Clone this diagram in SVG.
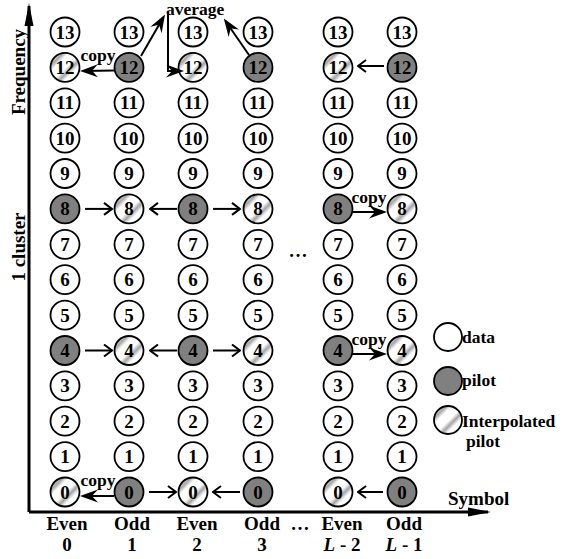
<svg xmlns="http://www.w3.org/2000/svg" width="562" height="559" viewBox="0 0 562 559">
<style>
  text{font-family:"Liberation Serif","Times New Roman",serif;font-weight:bold;fill:#000}
  .d{fill:#fff;stroke:#000;stroke-width:1.8}
  .p{fill:#808080;stroke:#000;stroke-width:1.8}
  .h{fill:url(#hatch);stroke:#000;stroke-width:1.8}
  .n{font-size:19px;text-anchor:middle}
  .lbl{font-size:19px}
  .mid{text-anchor:middle}
  .sm{font-size:17.5px}
  .ar{fill:none;stroke:#000;stroke-width:2}
  .chev{marker-end:url(#chev)}
  .st{marker-end:url(#stealth)}
  .axis{fill:none;stroke:#000;stroke-width:3;marker-end:url(#axhead)}
</style>
<defs>
  <linearGradient id="hatch" x1="0" y1="0" x2="0.4" y2="0.4" spreadMethod="repeat">
    <stop offset="0" stop-color="#fff"/>
    <stop offset="0.3" stop-color="#fff"/>
    <stop offset="0.55" stop-color="#a4a4a4"/>
    <stop offset="0.8" stop-color="#fff"/>
    <stop offset="1" stop-color="#fff"/>
  </linearGradient>
  <marker id="chev" viewBox="0 0 10 14" refX="9" refY="7" markerWidth="10" markerHeight="14" markerUnits="userSpaceOnUse" orient="auto">
    <path d="M1,1 L9,7 L1,13" fill="none" stroke="#000" stroke-width="2"/>
  </marker>
  <marker id="stealth" viewBox="0 0 18 13" refX="15" refY="6.5" markerWidth="18" markerHeight="13" markerUnits="userSpaceOnUse" orient="auto">
    <path d="M18,6.5 L0,0 L6,6.5 L0,13 z" fill="#000"/>
  </marker>
  <marker id="axhead" viewBox="0 0 23 10" refX="20" refY="5" markerWidth="23" markerHeight="10" markerUnits="userSpaceOnUse" orient="auto">
    <path d="M23,5 L0,0.5 L0,9.5 z" fill="#000"/>
  </marker>
</defs>

<!-- axes -->
<g id="axes">
  <line class="axis" x1="29" y1="512" x2="29" y2="6"/>
  <line class="axis" x1="29" y1="512" x2="488" y2="512"/>
  <text class="lbl mid" transform="translate(25,72) rotate(-90)">Frequency</text>
  <text class="lbl mid" transform="translate(25,247) rotate(-90)">1 cluster</text>
  <text class="lbl" x="448" y="505">Symbol</text>
</g>

<!-- symbol index labels -->
<g id="symbols" class="lbl">
  <text class="mid" x="67" y="530">Even</text><text class="mid" x="67" y="551">0</text>
  <text class="mid" x="132" y="530">Odd</text><text class="mid" x="132" y="551">1</text>
  <text class="mid" x="197" y="530">Even</text><text class="mid" x="197" y="551">2</text>
  <text class="mid" x="262" y="530">Odd</text><text class="mid" x="262" y="551">3</text>
  <text class="mid" x="300" y="530">…</text>
  <text class="mid" x="342" y="530">Even</text><text class="mid" x="342" y="551"><tspan font-style="italic">L</tspan> - 2</text>
  <text class="mid" x="404" y="530">Odd</text><text class="mid" x="404" y="551"><tspan font-style="italic">L</tspan> - 1</text>
  <text class="mid" x="298" y="257">…</text>
</g>

<!-- column 0 -->
<g id="c0r13" transform="translate(65,32)"><circle class="d" r="14.5"/><text class="n" y="6.5">13</text></g>
<g id="c0r12" transform="translate(65,67.4)"><circle class="h" r="14.5"/><text class="n" y="6.5">12</text></g>
<g id="c0r11" transform="translate(65,102.8)"><circle class="d" r="14.5"/><text class="n" y="6.5">11</text></g>
<g id="c0r10" transform="translate(65,138.2)"><circle class="d" r="14.5"/><text class="n" y="6.5">10</text></g>
<g id="c0r9" transform="translate(65,173.5)"><circle class="d" r="14.5"/><text class="n" y="6.5">9</text></g>
<g id="c0r8" transform="translate(65,208.9)"><circle class="p" r="14.5"/><text class="n" y="6.5">8</text></g>
<g id="c0r7" transform="translate(65,244.3)"><circle class="d" r="14.5"/><text class="n" y="6.5">7</text></g>
<g id="c0r6" transform="translate(65,279.7)"><circle class="d" r="14.5"/><text class="n" y="6.5">6</text></g>
<g id="c0r5" transform="translate(65,315.1)"><circle class="d" r="14.5"/><text class="n" y="6.5">5</text></g>
<g id="c0r4" transform="translate(65,350.5)"><circle class="p" r="14.5"/><text class="n" y="6.5">4</text></g>
<g id="c0r3" transform="translate(65,385.8)"><circle class="d" r="14.5"/><text class="n" y="6.5">3</text></g>
<g id="c0r2" transform="translate(65,421.2)"><circle class="d" r="14.5"/><text class="n" y="6.5">2</text></g>
<g id="c0r1" transform="translate(65,456.6)"><circle class="d" r="14.5"/><text class="n" y="6.5">1</text></g>
<g id="c0r0" transform="translate(65,492)"><circle class="h" r="14.5"/><text class="n" y="6.5">0</text></g>

<!-- column 1 -->
<g id="c1r13" transform="translate(129,32)"><circle class="d" r="14.5"/><text class="n" y="6.5">13</text></g>
<g id="c1r12" transform="translate(129,67.4)"><circle class="p" r="14.5"/><text class="n" y="6.5">12</text></g>
<g id="c1r11" transform="translate(129,102.8)"><circle class="d" r="14.5"/><text class="n" y="6.5">11</text></g>
<g id="c1r10" transform="translate(129,138.2)"><circle class="d" r="14.5"/><text class="n" y="6.5">10</text></g>
<g id="c1r9" transform="translate(129,173.5)"><circle class="d" r="14.5"/><text class="n" y="6.5">9</text></g>
<g id="c1r8" transform="translate(129,208.9)"><circle class="h" r="14.5"/><text class="n" y="6.5">8</text></g>
<g id="c1r7" transform="translate(129,244.3)"><circle class="d" r="14.5"/><text class="n" y="6.5">7</text></g>
<g id="c1r6" transform="translate(129,279.7)"><circle class="d" r="14.5"/><text class="n" y="6.5">6</text></g>
<g id="c1r5" transform="translate(129,315.1)"><circle class="d" r="14.5"/><text class="n" y="6.5">5</text></g>
<g id="c1r4" transform="translate(129,350.5)"><circle class="h" r="14.5"/><text class="n" y="6.5">4</text></g>
<g id="c1r3" transform="translate(129,385.8)"><circle class="d" r="14.5"/><text class="n" y="6.5">3</text></g>
<g id="c1r2" transform="translate(129,421.2)"><circle class="d" r="14.5"/><text class="n" y="6.5">2</text></g>
<g id="c1r1" transform="translate(129,456.6)"><circle class="d" r="14.5"/><text class="n" y="6.5">1</text></g>
<g id="c1r0" transform="translate(129,492)"><circle class="p" r="14.5"/><text class="n" y="6.5">0</text></g>

<!-- column 2 -->
<g id="c2r13" transform="translate(193,32)"><circle class="d" r="14.5"/><text class="n" y="6.5">13</text></g>
<g id="c2r12" transform="translate(193,67.4)"><circle class="h" r="14.5"/><text class="n" y="6.5">12</text></g>
<g id="c2r11" transform="translate(193,102.8)"><circle class="d" r="14.5"/><text class="n" y="6.5">11</text></g>
<g id="c2r10" transform="translate(193,138.2)"><circle class="d" r="14.5"/><text class="n" y="6.5">10</text></g>
<g id="c2r9" transform="translate(193,173.5)"><circle class="d" r="14.5"/><text class="n" y="6.5">9</text></g>
<g id="c2r8" transform="translate(193,208.9)"><circle class="p" r="14.5"/><text class="n" y="6.5">8</text></g>
<g id="c2r7" transform="translate(193,244.3)"><circle class="d" r="14.5"/><text class="n" y="6.5">7</text></g>
<g id="c2r6" transform="translate(193,279.7)"><circle class="d" r="14.5"/><text class="n" y="6.5">6</text></g>
<g id="c2r5" transform="translate(193,315.1)"><circle class="d" r="14.5"/><text class="n" y="6.5">5</text></g>
<g id="c2r4" transform="translate(193,350.5)"><circle class="p" r="14.5"/><text class="n" y="6.5">4</text></g>
<g id="c2r3" transform="translate(193,385.8)"><circle class="d" r="14.5"/><text class="n" y="6.5">3</text></g>
<g id="c2r2" transform="translate(193,421.2)"><circle class="d" r="14.5"/><text class="n" y="6.5">2</text></g>
<g id="c2r1" transform="translate(193,456.6)"><circle class="d" r="14.5"/><text class="n" y="6.5">1</text></g>
<g id="c2r0" transform="translate(193,492)"><circle class="h" r="14.5"/><text class="n" y="6.5">0</text></g>

<!-- column 3 -->
<g id="c3r13" transform="translate(258,32)"><circle class="d" r="14.5"/><text class="n" y="6.5">13</text></g>
<g id="c3r12" transform="translate(258,67.4)"><circle class="p" r="14.5"/><text class="n" y="6.5">12</text></g>
<g id="c3r11" transform="translate(258,102.8)"><circle class="d" r="14.5"/><text class="n" y="6.5">11</text></g>
<g id="c3r10" transform="translate(258,138.2)"><circle class="d" r="14.5"/><text class="n" y="6.5">10</text></g>
<g id="c3r9" transform="translate(258,173.5)"><circle class="d" r="14.5"/><text class="n" y="6.5">9</text></g>
<g id="c3r8" transform="translate(258,208.9)"><circle class="h" r="14.5"/><text class="n" y="6.5">8</text></g>
<g id="c3r7" transform="translate(258,244.3)"><circle class="d" r="14.5"/><text class="n" y="6.5">7</text></g>
<g id="c3r6" transform="translate(258,279.7)"><circle class="d" r="14.5"/><text class="n" y="6.5">6</text></g>
<g id="c3r5" transform="translate(258,315.1)"><circle class="d" r="14.5"/><text class="n" y="6.5">5</text></g>
<g id="c3r4" transform="translate(258,350.5)"><circle class="h" r="14.5"/><text class="n" y="6.5">4</text></g>
<g id="c3r3" transform="translate(258,385.8)"><circle class="d" r="14.5"/><text class="n" y="6.5">3</text></g>
<g id="c3r2" transform="translate(258,421.2)"><circle class="d" r="14.5"/><text class="n" y="6.5">2</text></g>
<g id="c3r1" transform="translate(258,456.6)"><circle class="d" r="14.5"/><text class="n" y="6.5">1</text></g>
<g id="c3r0" transform="translate(258,492)"><circle class="p" r="14.5"/><text class="n" y="6.5">0</text></g>

<!-- column L-2 -->
<g id="c4r13" transform="translate(338,32)"><circle class="d" r="14.5"/><text class="n" y="6.5">13</text></g>
<g id="c4r12" transform="translate(338,67.4)"><circle class="h" r="14.5"/><text class="n" y="6.5">12</text></g>
<g id="c4r11" transform="translate(338,102.8)"><circle class="d" r="14.5"/><text class="n" y="6.5">11</text></g>
<g id="c4r10" transform="translate(338,138.2)"><circle class="d" r="14.5"/><text class="n" y="6.5">10</text></g>
<g id="c4r9" transform="translate(338,173.5)"><circle class="d" r="14.5"/><text class="n" y="6.5">9</text></g>
<g id="c4r8" transform="translate(338,208.9)"><circle class="p" r="14.5"/><text class="n" y="6.5">8</text></g>
<g id="c4r7" transform="translate(338,244.3)"><circle class="d" r="14.5"/><text class="n" y="6.5">7</text></g>
<g id="c4r6" transform="translate(338,279.7)"><circle class="d" r="14.5"/><text class="n" y="6.5">6</text></g>
<g id="c4r5" transform="translate(338,315.1)"><circle class="d" r="14.5"/><text class="n" y="6.5">5</text></g>
<g id="c4r4" transform="translate(338,350.5)"><circle class="p" r="14.5"/><text class="n" y="6.5">4</text></g>
<g id="c4r3" transform="translate(338,385.8)"><circle class="d" r="14.5"/><text class="n" y="6.5">3</text></g>
<g id="c4r2" transform="translate(338,421.2)"><circle class="d" r="14.5"/><text class="n" y="6.5">2</text></g>
<g id="c4r1" transform="translate(338,456.6)"><circle class="d" r="14.5"/><text class="n" y="6.5">1</text></g>
<g id="c4r0" transform="translate(338,492)"><circle class="h" r="14.5"/><text class="n" y="6.5">0</text></g>

<!-- column L-1 -->
<g id="c5r13" transform="translate(402,32)"><circle class="d" r="14.5"/><text class="n" y="6.5">13</text></g>
<g id="c5r12" transform="translate(402,67.4)"><circle class="p" r="14.5"/><text class="n" y="6.5">12</text></g>
<g id="c5r11" transform="translate(402,102.8)"><circle class="d" r="14.5"/><text class="n" y="6.5">11</text></g>
<g id="c5r10" transform="translate(402,138.2)"><circle class="d" r="14.5"/><text class="n" y="6.5">10</text></g>
<g id="c5r9" transform="translate(402,173.5)"><circle class="d" r="14.5"/><text class="n" y="6.5">9</text></g>
<g id="c5r8" transform="translate(402,208.9)"><circle class="h" r="14.5"/><text class="n" y="6.5">8</text></g>
<g id="c5r7" transform="translate(402,244.3)"><circle class="d" r="14.5"/><text class="n" y="6.5">7</text></g>
<g id="c5r6" transform="translate(402,279.7)"><circle class="d" r="14.5"/><text class="n" y="6.5">6</text></g>
<g id="c5r5" transform="translate(402,315.1)"><circle class="d" r="14.5"/><text class="n" y="6.5">5</text></g>
<g id="c5r4" transform="translate(402,350.5)"><circle class="h" r="14.5"/><text class="n" y="6.5">4</text></g>
<g id="c5r3" transform="translate(402,385.8)"><circle class="d" r="14.5"/><text class="n" y="6.5">3</text></g>
<g id="c5r2" transform="translate(402,421.2)"><circle class="d" r="14.5"/><text class="n" y="6.5">2</text></g>
<g id="c5r1" transform="translate(402,456.6)"><circle class="d" r="14.5"/><text class="n" y="6.5">1</text></g>
<g id="c5r0" transform="translate(402,492)"><circle class="p" r="14.5"/><text class="n" y="6.5">0</text></g>

<!-- connectors -->
<g id="connectors">
  <!-- row 12 -->
  <line class="ar st" x1="114" y1="70.5" x2="83" y2="71"/>
  <text class="sm mid" x="98" y="61">copy</text>
  <line class="ar st" x1="141" y1="56" x2="163.5" y2="17"/>
  <line class="ar st" x1="249" y1="55" x2="225.5" y2="21"/>
  <polyline class="ar st" points="168,13 168,71 181,71"/>
  <text class="sm" x="166" y="14.5">average</text>
  <line class="ar chev" x1="384" y1="66" x2="358" y2="66"/>
  <!-- row 8 -->
  <line class="ar chev" x1="85" y1="208.9" x2="112" y2="208.9"/>
  <line class="ar chev" x1="177" y1="208.9" x2="150" y2="208.9"/>
  <line class="ar chev" x1="213" y1="208.9" x2="240" y2="208.9"/>
  <line class="ar st" x1="352" y1="212" x2="384" y2="212"/>
  <text class="sm mid" x="369" y="203">copy</text>
  <!-- row 4 -->
  <line class="ar chev" x1="85" y1="350.5" x2="112" y2="350.5"/>
  <line class="ar chev" x1="177" y1="350.5" x2="150" y2="350.5"/>
  <line class="ar chev" x1="213" y1="350.5" x2="240" y2="350.5"/>
  <line class="ar st" x1="352" y1="354" x2="384" y2="354"/>
  <text class="sm mid" x="369" y="344.5">copy</text>
  <!-- row 0 -->
  <line class="ar st" x1="114" y1="496" x2="83" y2="496"/>
  <text class="sm mid" x="98" y="486">copy</text>
  <line class="ar chev" x1="149" y1="492" x2="176" y2="492"/>
  <line class="ar chev" x1="240" y1="492" x2="213" y2="492"/>
  <line class="ar chev" x1="383" y1="492" x2="358" y2="492"/>
</g>

<!-- legend -->
<g id="legend-data"><circle class="d" cx="448" cy="337" r="14"/><text class="sm" x="462" y="343">data</text></g>
<g id="legend-pilot"><circle class="p" cx="448" cy="381" r="14"/><text class="sm" x="462" y="386">pilot</text></g>
<g id="legend-interp"><circle class="h" cx="448" cy="420" r="14"/><text class="sm" x="462" y="427">Interpolated</text><text class="sm" x="466" y="447">pilot</text></g>
</svg>
